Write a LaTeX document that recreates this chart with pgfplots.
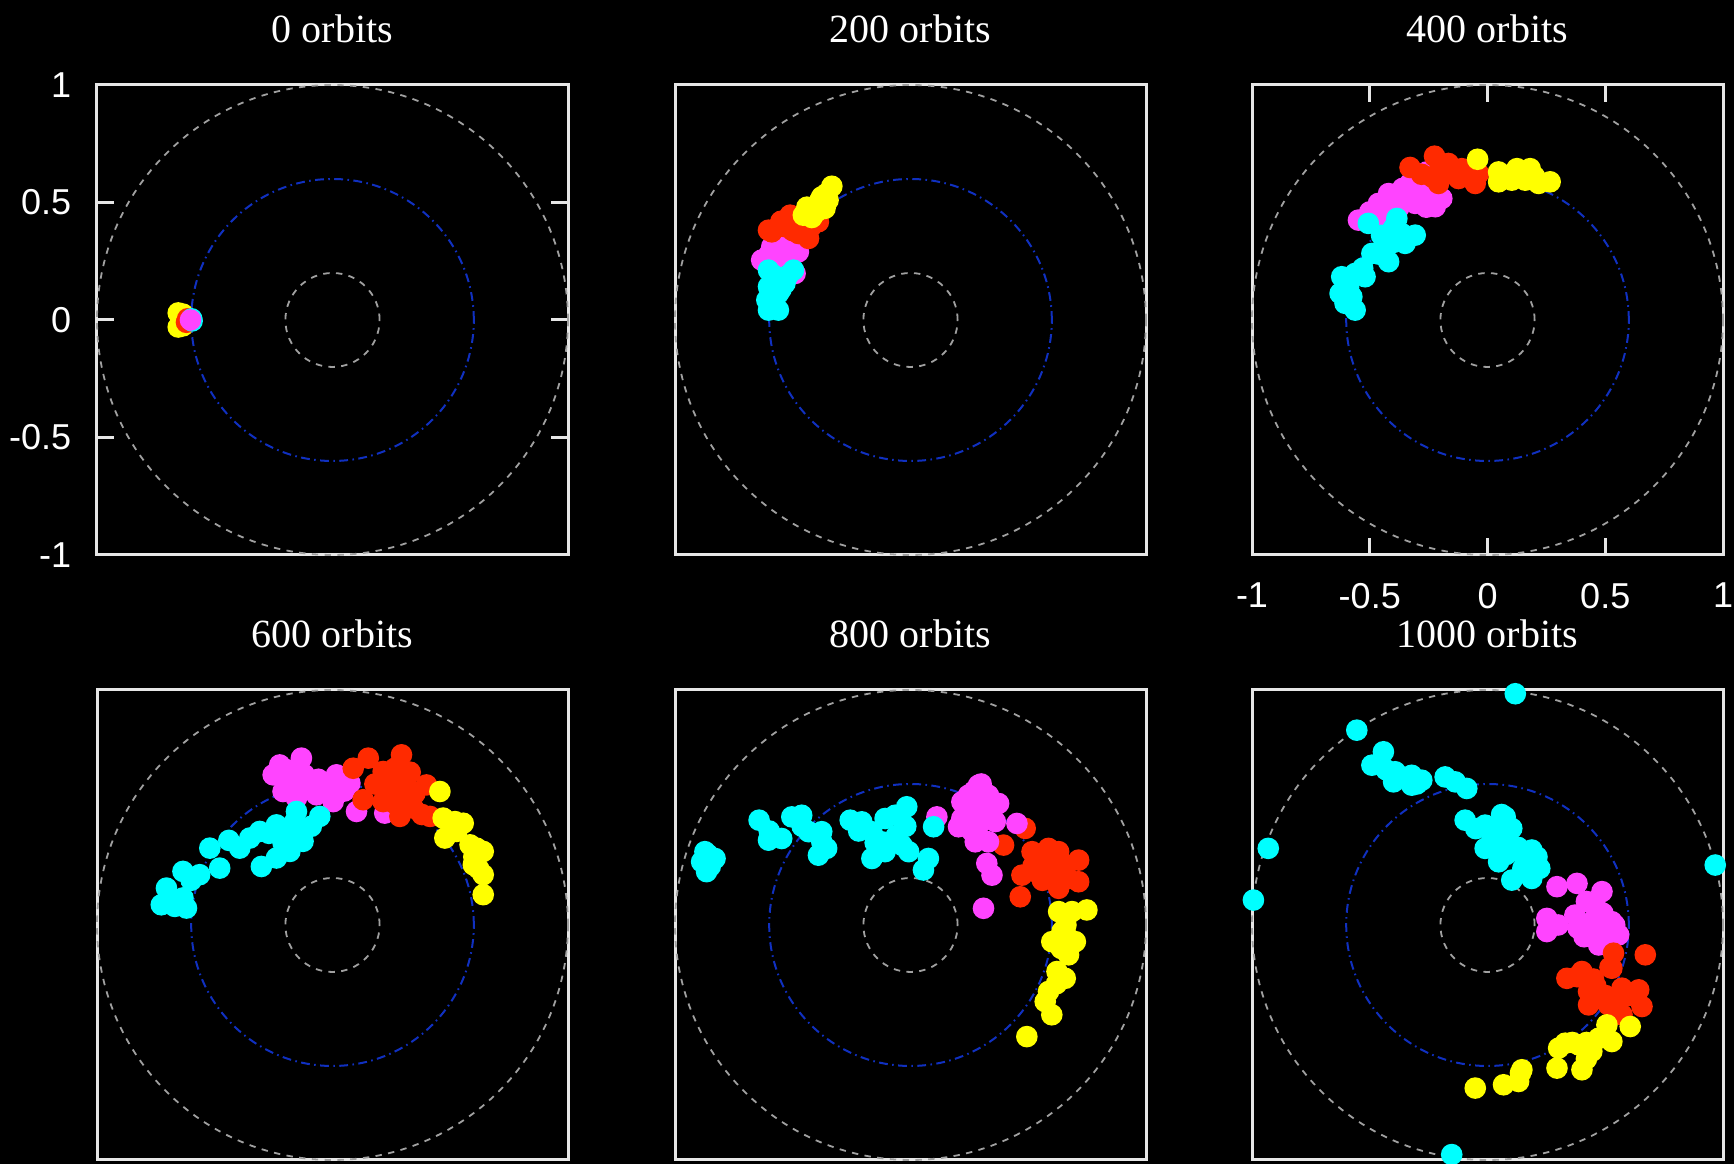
\documentclass[border=0pt]{standalone}
\usepackage{pgfplots}
\pgfplotsset{compat=1.18}
\usepackage{fontspec}
\setmainfont{Liberation Serif}
\newfontfamily\ticksans{Liberation Sans}

\definecolor{boxgray}{HTML}{E6E6E6}
\definecolor{ringgray}{HTML}{A0A0A0}
\definecolor{ringblue}{HTML}{1030C0}
\definecolor{pyellow}{HTML}{FFFF00}
\definecolor{pred}{HTML}{FF2A00}
\definecolor{pmagenta}{HTML}{FF44FF}
\definecolor{pcyan}{HTML}{00FFFF}

\pgfplotsset{
  orbitpanel/.style={
    width=117.75pt, height=117.5pt, scale only axis,
    xmin=-1, xmax=1, ymin=-1, ymax=1,
    clip=false,
    axis line style={draw=boxgray, line width=0.75pt},
    xtick=\empty, ytick=\empty,
    major tick length=4.25pt,
    tick align=inside,
    every tick/.style={draw=boxgray, line width=0.75pt},
    tick label style={font=\ticksans\fontsize{9pt}{11pt}\selectfont, text=white, inner sep=0pt},
    title style={font=\fontsize{10pt}{12pt}\selectfont, text=white,
                 at={(0.5,1)}, anchor=base, yshift=4.6pt},
    every axis plot/.append style={only marks, mark=*, mark size=2.5pt},
  },
}
% reference rings at r = 1, 0.6 and 0.2
\newcommand\rings{%
  \draw[ringgray, line width=0.45pt, dash pattern=on 1.6pt off 1.6pt] (axis cs:0,0) circle[radius=1];
  \draw[ringblue, line width=0.5pt, dash pattern=on 2.2pt off 1.1pt on 0.4pt off 1.1pt] (axis cs:0,0) circle[radius=0.6];
  \draw[ringgray, line width=0.45pt, dash pattern=on 1.6pt off 1.6pt] (axis cs:0,0) circle[radius=0.2];
}
\newcommand\cy{\addplot[pcyan, mark options={draw=pcyan, fill=pcyan}]}
\newcommand\ye{\addplot[pyellow, mark options={draw=pyellow, fill=pyellow}]}
\newcommand\re{\addplot[pred, mark options={draw=pred, fill=pred}]}
\newcommand\ma{\addplot[pmagenta, mark options={draw=pmagenta, fill=pmagenta}]}

\begin{document}
\begin{tikzpicture}
\path[use as bounding box] (0pt,0pt) rectangle (433.5pt,291pt);
\fill[black] (0pt,0pt) rectangle (433.5pt,291pt);

% ---- 0 orbits ----
\begin{axis}[orbitpanel, at={(24.25pt,152.25pt)}, anchor=south west, title={0 orbits},
  ytick={-1,-0.5,0,0.5,1}, yticklabels={-1,-0.5,0,0.5,1},
  yticklabel style={anchor=east, xshift=-6.25pt}]
\rings
\ye coordinates {(-0.655,0.03) (-0.655,-0.03) (-0.64,0.0) (-0.635,0.025) (-0.635,-0.025) (-0.625,0.0)};
\re coordinates {(-0.615,0.005) (-0.62,-0.01) (-0.61,0.0)};
\cy coordinates {(-0.598,0.005) (-0.596,-0.004)};
\ma coordinates {(-0.603,0.0)};
\end{axis}

% ---- 200 orbits ----
\begin{axis}[orbitpanel, at={(168.75pt,152.25pt)}, anchor=south west, title={200 orbits}]
\rings
\ma coordinates {(-0.632,0.255) (-0.589,0.312) (-0.533,0.312) (-0.476,0.290) (-0.561,0.269) (-0.490,0.198) (-0.51,0.27) (-0.60,0.28) (-0.55,0.29)};
\cy coordinates {(-0.603,0.212) (-0.497,0.212) (-0.547,0.170) (-0.603,0.142) (-0.561,0.113) (-0.610,0.085) (-0.603,0.042) (-0.561,0.042) (-0.533,0.156) (-0.58,0.19) (-0.52,0.19) (-0.58,0.07) (-0.59,0.11) (-0.55,0.13)};
\re coordinates {(-0.603,0.382) (-0.561,0.397) (-0.511,0.446) (-0.533,0.397) (-0.476,0.368) (-0.433,0.347) (-0.391,0.418) (-0.462,0.397) (-0.589,0.375) (-0.490,0.411) (-0.55,0.42) (-0.50,0.38) (-0.42,0.40)};
\ye coordinates {(-0.334,0.569) (-0.356,0.538) (-0.384,0.510) (-0.405,0.484) (-0.433,0.460) (-0.455,0.446) (-0.419,0.436) (-0.363,0.475) (-0.377,0.524) (-0.44,0.48) (-0.40,0.46) (-0.35,0.51)};
\end{axis}

% ---- 400 orbits ----
\begin{axis}[orbitpanel, at={(313pt,152.25pt)}, anchor=south west, title={400 orbits},
  xtick={-1,-0.5,0,0.5,1}, xticklabels={-1,-0.5,0,0.5,1},
  xticklabel style={anchor=north, yshift=-6.8pt}]
\rings
\ma coordinates {(-0.258,0.630) (-0.329,0.581) (-0.420,0.538) (-0.463,0.496) (-0.548,0.425) (-0.364,0.538) (-0.293,0.538) (-0.222,0.482) (-0.194,0.517) (-0.307,0.496) (-0.378,0.475) (-0.463,0.439) (-0.26,0.48) (-0.24,0.55) (-0.33,0.52) (-0.40,0.51) (-0.45,0.46) (-0.50,0.46) (-0.27,0.59) (-0.36,0.56)};
\re coordinates {(-0.329,0.649) (-0.225,0.697) (-0.166,0.666) (-0.109,0.644) (-0.052,0.581) (-0.208,0.581) (-0.236,0.609) (-0.123,0.602) (-0.038,0.623) (-0.18,0.62) (-0.15,0.64) (-0.09,0.61) (-0.20,0.65) (-0.28,0.62)};
\ye coordinates {(-0.042,0.684) (0.047,0.630) (0.125,0.644) (0.181,0.644) (0.217,0.581) (0.266,0.588) (0.103,0.595) (0.047,0.588) (0.160,0.595) (0.08,0.61) (0.20,0.61)};
\cy coordinates {(-0.506,0.411) (-0.385,0.432) (-0.307,0.361) (-0.350,0.326) (-0.435,0.312) (-0.491,0.283) (-0.420,0.248) (-0.364,0.368) (-0.562,0.198) (-0.619,0.184) (-0.520,0.184) (-0.626,0.113) (-0.576,0.099) (-0.562,0.042) (-0.605,0.071) (-0.45,0.36) (-0.40,0.33) (-0.46,0.28) (-0.53,0.22) (-0.59,0.14) (-0.40,0.39)};
\end{axis}

% ---- 600 orbits ----
\begin{axis}[orbitpanel, at={(24.25pt,1pt)}, anchor=south west, title={600 orbits}]
\rings
\ma coordinates {(-0.224,0.681) (-0.132,0.710) (-0.252,0.639) (-0.181,0.625) (-0.210,0.568) (-0.153,0.540) (-0.096,0.596) (-0.040,0.568) (0.017,0.639) (0.003,0.525) (0.074,0.603) (0.102,0.483) (0.222,0.476) (-0.068,0.554) (-0.19,0.66) (-0.12,0.64) (-0.06,0.62) (-0.15,0.59) (-0.02,0.60) (0.05,0.57)};
\re coordinates {(0.088,0.667) (0.152,0.710) (0.215,0.653) (0.293,0.724) (0.265,0.667) (0.314,0.625) (0.399,0.596) (0.130,0.533) (0.215,0.525) (0.286,0.462) (0.343,0.497) (0.414,0.462) (0.300,0.554) (0.18,0.60) (0.25,0.60) (0.35,0.56) (0.33,0.65) (0.26,0.52) (0.38,0.47)};
\ye coordinates {(0.456,0.568) (0.470,0.455) (0.555,0.433) (0.477,0.370) (0.527,0.398) (0.612,0.327) (0.640,0.313) (0.598,0.256) (0.640,0.214) (0.640,0.129) (0.584,0.341) (0.52,0.44) (0.60,0.29) (0.62,0.24)};
\cy coordinates {(-0.054,0.462) (-0.125,0.412) (-0.125,0.356) (-0.181,0.313) (-0.238,0.426) (-0.309,0.398) (-0.351,0.370) (-0.394,0.327) (-0.302,0.249) (-0.238,0.285) (-0.153,0.483) (-0.521,0.327) (-0.479,0.242) (-0.564,0.214) (-0.635,0.228) (-0.705,0.157) (-0.635,0.115) (-0.727,0.086) (-0.670,0.079) (-0.620,0.072) (-0.195,0.370) (-0.21,0.35) (-0.27,0.39) (-0.09,0.42) (-0.16,0.44) (-0.44,0.36) (-0.60,0.19)};
\end{axis}

% ---- 800 orbits ----
\begin{axis}[orbitpanel, at={(168.75pt,1pt)}, anchor=south west, title={800 orbits}]
\rings
\re coordinates {(0.487,0.411) (0.395,0.340) (0.516,0.312) (0.586,0.326) (0.629,0.312) (0.714,0.276) (0.473,0.212) (0.530,0.227) (0.586,0.227) (0.643,0.241) (0.714,0.184) (0.629,0.156) (0.466,0.120) (0.671,0.198) (0.55,0.29) (0.60,0.28) (0.52,0.25) (0.65,0.26) (0.56,0.19)};
\ma coordinates {(0.112,0.460) (0.218,0.453) (0.289,0.595) (0.246,0.552) (0.331,0.552) (0.374,0.517) (0.218,0.524) (0.275,0.496) (0.204,0.418) (0.289,0.425) (0.275,0.354) (0.331,0.354) (0.324,0.262) (0.346,0.212) (0.310,0.071) (0.452,0.432) (0.30,0.60) (0.27,0.57) (0.33,0.50) (0.25,0.49) (0.30,0.47) (0.36,0.44) (0.26,0.40)};
\ye coordinates {(0.629,0.057) (0.686,0.057) (0.749,0.064) (0.600,-0.071) (0.671,-0.057) (0.700,-0.071) (0.643,-0.028) (0.671,-0.127) (0.622,-0.198) (0.657,-0.227) (0.586,-0.283) (0.572,-0.326) (0.600,-0.382) (0.494,-0.475) (0.66,0.0) (0.64,-0.10) (0.62,-0.25)};
\cy coordinates {(-0.873,0.312) (-0.830,0.283) (-0.866,0.227) (-0.887,0.269) (-0.643,0.446) (-0.603,0.361) (-0.547,0.368) (-0.504,0.460) (-0.462,0.467) (-0.433,0.397) (-0.377,0.397) (-0.377,0.354) (-0.391,0.297) (-0.356,0.326) (-0.256,0.446) (-0.207,0.439) (-0.164,0.397) (-0.108,0.453) (-0.065,0.467) (-0.016,0.503) (-0.037,0.340) (-0.008,0.312) (-0.164,0.283) (-0.108,0.312) (0.076,0.283) (0.055,0.234) (0.098,0.418) (-0.122,0.354) (-0.86,0.30) (-0.85,0.25) (-0.60,0.40) (-0.46,0.42) (-0.22,0.40) (-0.15,0.35) (-0.06,0.38) (-0.02,0.42)};
\end{axis}

% ---- 1000 orbits ----
\begin{axis}[orbitpanel, at={(313pt,1pt)}, anchor=south west, title={1000 orbits}]
\rings
\ma coordinates {(0.295,0.163) (0.380,0.177) (0.486,0.142) (0.457,0.085) (0.371,0.042) (0.252,0.028) (0.252,-0.028) (0.385,-0.014) (0.443,-0.042) (0.507,-0.014) (0.557,-0.042) (0.472,-0.085) (0.528,0.014) (0.42,0.10) (0.45,0.02) (0.49,0.05) (0.54,0.0) (0.41,-0.05) (0.30,0.0) (0.50,-0.07)};
\re coordinates {(0.535,-0.120) (0.670,-0.127) (0.528,-0.184) (0.401,-0.198) (0.337,-0.227) (0.429,-0.283) (0.472,-0.312) (0.429,-0.340) (0.571,-0.269) (0.642,-0.276) (0.656,-0.347) (0.571,-0.382) (0.514,-0.340) (0.46,-0.26) (0.50,-0.30) (0.55,-0.31) (0.60,-0.30) (0.45,-0.23) (0.38,-0.22) (0.52,-0.18)};
\ye coordinates {(0.507,-0.425) (0.606,-0.432) (0.528,-0.496) (0.472,-0.482) (0.443,-0.538) (0.330,-0.503) (0.302,-0.524) (0.387,-0.510) (0.295,-0.609) (0.401,-0.616) (0.146,-0.616) (0.132,-0.666) (0.068,-0.680) (-0.052,-0.694) (0.50,-0.47) (0.42,-0.50) (0.36,-0.50) (0.42,-0.57) (0.14,-0.63)};
\cy coordinates {(0.118,0.984) (-0.555,0.829) (-0.442,0.737) (-0.491,0.680) (-0.392,0.652) (-0.399,0.609) (-0.322,0.637) (-0.322,0.595) (-0.279,0.616) (-0.180,0.630) (-0.137,0.609) (-0.088,0.581) (-0.095,0.446) (-0.010,0.425) (0.075,0.460) (0.018,0.382) (0.103,0.411) (-0.010,0.326) (0.047,0.269) (0.089,0.354) (0.188,0.319) (0.159,0.283) (0.222,0.241) (0.188,0.198) (0.103,0.191) (-0.931,0.326) (-0.994,0.106) (0.967,0.255) (-0.152,-0.977) (0.05,0.42) (0.03,0.35) (0.08,0.30) (0.13,0.33) (0.15,0.24) (0.21,0.29) (-0.05,0.41) (0.06,0.47) (-0.36,0.63) (-0.30,0.60) (-0.43,0.66)};
\end{axis}
\end{tikzpicture}
\end{document}
